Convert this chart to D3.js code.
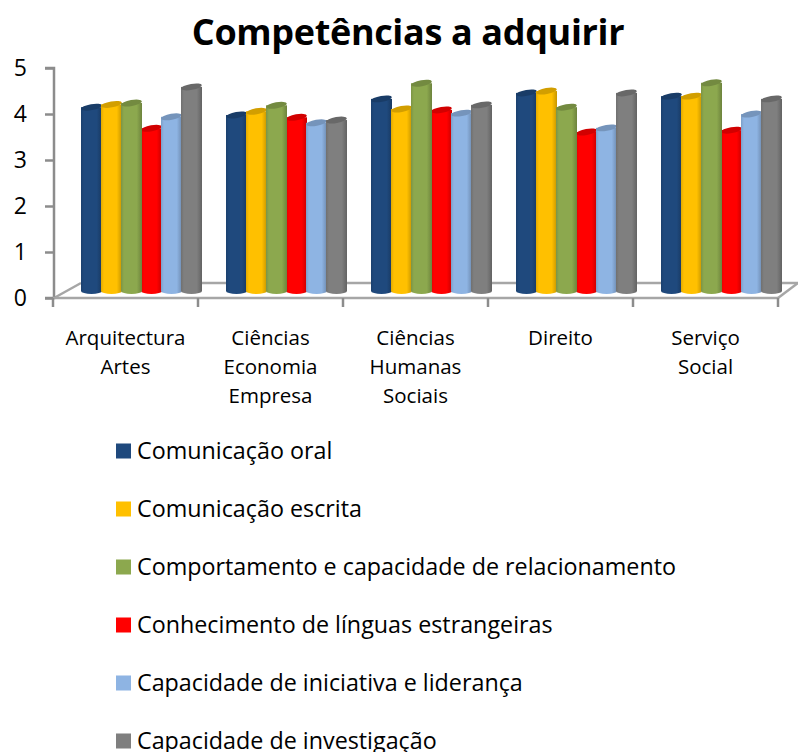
<!DOCTYPE html>
<html>
<head>
<meta charset="utf-8">
<script src="https://cdn.jsdelivr.net/npm/d3@7"></script>
<style>
  html, body { margin: 0; padding: 0; background: #fff; overflow: hidden; }
  text { font-family: "Open Sans", sans-serif; fill: #000; }
</style>
</head>
<body>
<div id="chart"></div>
<script>
var categories = ["Arquitectura Artes", "Ciências Economia Empresa", "Ciências Humanas Sociais", "Direito", "Serviço Social"];
var categoryLines = [["Arquitectura", "Artes"], ["Ciências", "Economia", "Empresa"], ["Ciências", "Humanas", "Sociais"], ["Direito"], ["Serviço", "Social"]];
var seriesNames = ["Comunicação oral", "Comunicação escrita", "Comportamento e capacidade de relacionamento", "Conhecimento de línguas estrangeiras", "Capacidade de iniciativa e liderança", "Capacidade de investigação"];
var seriesColors = ["#1f497d", "#ffc000", "#8ca84e", "#ff0000", "#8eb4e3", "#7f7f7f"];
var comunicacaoOral = [4.04, 3.87, 4.22, 4.35, 4.28];
var comunicacaoEscrita = [4.1, 3.95, 4.0, 4.39, 4.28];
var comportamento = [4.13, 4.08, 4.56, 4.04, 4.57];
var linguas = [3.58, 3.82, 3.98, 3.5, 3.54];
var iniciativa = [3.83, 3.7, 3.91, 3.59, 3.89];
var investigacao = [4.48, 3.76, 4.09, 4.35, 4.22];
var seriesValues = [comunicacaoOral, comunicacaoEscrita, comportamento, linguas, iniciativa, investigacao];
var yTicks = [0, 1, 2, 3, 4, 5];
// red and light blue sit behind their neighbours
var drawOrder = [3, 4, 5, 0, 1, 2];

var width = 798, height = 752;
var axisColor = "#8c8c8c";
var floorColor = "#a6a6a6";
var floorX = 27, floorY = 15, barLift = 5;

var svg = d3.select("#chart").append("svg")
  .attr("width", width)
  .attr("height", height);

var defs = svg.append("defs");
seriesColors.forEach(function(c, i) {
  var g = defs.append("linearGradient").attr("id", "bar" + i);
  g.append("stop").attr("offset", "0%").attr("stop-color", d3.color(c).darker(0.35));
  g.append("stop").attr("offset", "14%").attr("stop-color", c);
  g.append("stop").attr("offset", "75%").attr("stop-color", c);
  g.append("stop").attr("offset", "100%").attr("stop-color", d3.color(c).darker(0.7));
});

var x = d3.scaleBand().domain(categories).range([53, 778]);
var y = d3.scaleLinear().domain([0, 5]).range([298, 68]);
var xInner = d3.scaleBand().domain(d3.range(seriesNames.length)).range([28, 148]);

svg.append("text")
  .attr("x", 408).attr("y", 45)
  .attr("text-anchor", "middle")
  .attr("font-size", 36).attr("font-weight", 700)
  .attr("letter-spacing", -0.35)
  .text("Competências a adquirir");

// floor of the 3d box
var floor = svg.append("g").attr("fill", "none").attr("stroke", floorColor).attr("stroke-width", 2.5);
floor.append("line").attr("x1", 54).attr("y1", y(0)).attr("x2", 54 + floorX).attr("y2", y(0) - floorY);
floor.append("line").attr("x1", 54 + floorX).attr("y1", y(0) - floorY).attr("x2", width).attr("y2", y(0) - floorY);
floor.append("line").attr("x1", 778).attr("y1", y(0)).attr("x2", width).attr("y2", y(0) - floorY);

var yAxis = d3.axisLeft(y).tickValues(yTicks).tickFormat(d3.format("d")).tickSize(9).tickPadding(18);
var yG = svg.append("g").attr("transform", "translate(54,0)").call(yAxis);
yG.selectAll("line, path").attr("stroke", axisColor).attr("stroke-width", 2.5);
yG.select("path").attr("d", "M-9," + y(5) + "H0V" + y(0) + "H-9");
yG.selectAll("text").attr("font-size", 23).attr("font-family", "Open Sans");

var xAxis = d3.axisBottom(x).tickValues([]).tickSize(0);
var xG = svg.append("g").attr("transform", "translate(0," + y(0) + ")").call(xAxis);
xG.select("path").attr("stroke", floorColor).attr("stroke-width", 2.5).attr("d", "M53,0H778");
xG.selectAll("line.sep")
  .data(categories.concat(["end"]))
  .enter().append("line")
  .attr("class", "sep")
  .attr("x1", function(d, i) { return 53 + i * x.step(); })
  .attr("x2", function(d, i) { return 53 + i * x.step(); })
  .attr("y1", 0).attr("y2", 9)
  .attr("stroke", axisColor).attr("stroke-width", 2.5);

var bars = svg.append("g");
categories.forEach(function(cat, c) {
  drawOrder.forEach(function(s) {
    var v = seriesValues[s][c];
    var color = seriesColors[s];
    var bx = x(cat) + xInner(s);
    var bw = xInner.bandwidth() + 1;
    var top = y(v) - barLift;
    var bottom = y(0) - barLift - 2;
    var g = bars.append("g");
    g.append("ellipse")
      .attr("cx", bx + bw / 2).attr("cy", bottom)
      .attr("rx", bw / 2).attr("ry", 3)
      .attr("fill", "url(#bar" + s + ")");
    g.append("rect")
      .attr("x", bx).attr("y", top)
      .attr("width", bw).attr("height", bottom - top)
      .attr("fill", "url(#bar" + s + ")");
    g.append("ellipse")
      .attr("cx", bx + bw / 2).attr("cy", top)
      .attr("rx", bw / 2).attr("ry", 3)
      .attr("transform", "rotate(-10," + (bx + bw / 2) + "," + top + ")")
      .attr("fill", d3.color(color).darker(0.55));
  });
});

var labels = svg.append("g").attr("text-anchor", "middle").attr("font-size", 20.5);
categories.forEach(function(cat, c) {
  categoryLines[c].forEach(function(line, i) {
    labels.append("text")
      .attr("x", x(cat) + x.bandwidth() / 2)
      .attr("y", 345 + i * 29)
      .text(line);
  });
});

var legendY = d3.scalePoint().domain(seriesNames).range([451, 741]);
var legend = svg.append("g");
seriesNames.forEach(function(name, i) {
  legend.append("rect")
    .attr("x", 116).attr("y", legendY(name) - 7.5)
    .attr("width", 15).attr("height", 15)
    .attr("fill", seriesColors[i]);
  legend.append("text")
    .attr("x", 137).attr("y", legendY(name) + 8)
    .attr("font-size", 23.3)
    .text(name);
});
</script>
</body>
</html>
